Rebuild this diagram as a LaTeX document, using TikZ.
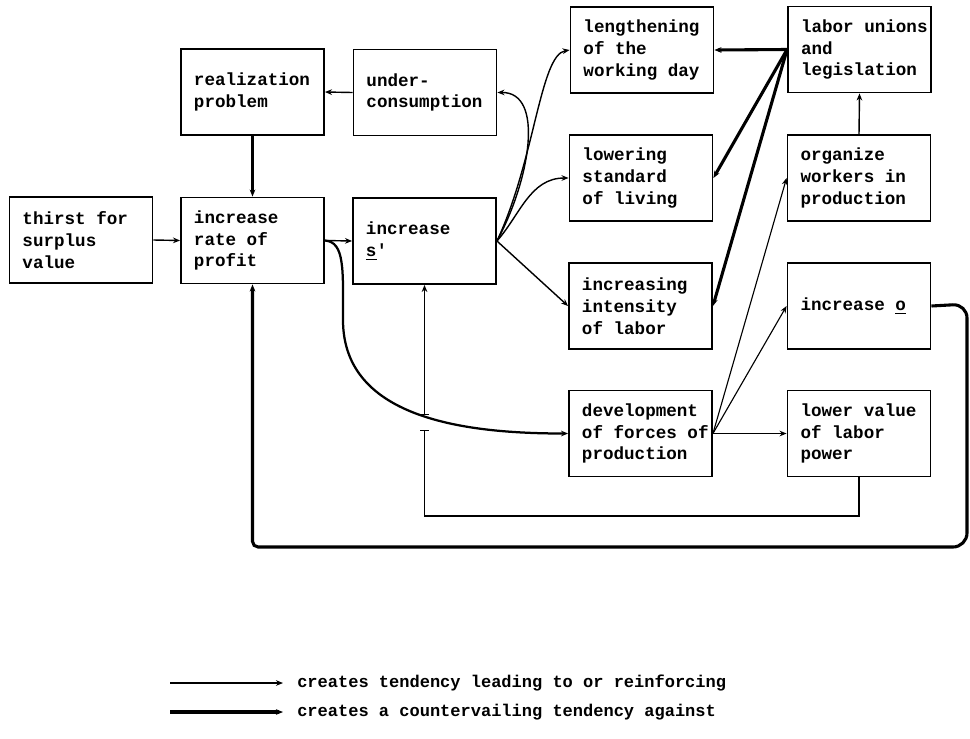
\documentclass[tikz,border=0pt]{standalone}
\usepackage{fontspec}
\setmonofont{Liberation Mono}
\usetikzlibrary{arrows.meta, calc}

\begin{document}
\begin{tikzpicture}[x=0.025cm, y=-0.025cm,
  box/.style={draw, line width=1.3pt, minimum width=3.575cm, minimum height=2.15cm,
    text width=2.925cm, inner xsep=0.325cm, align=left,
    execute at begin node={\spaceskip=0pt\xspaceskip=0pt\relax},
    font=\ttfamily\bfseries\fontsize{12.5}{15.5}\selectfont},
  tend/.style={-{Stealth[length=5pt, width=4pt]}, line width=1pt},
  counter/.style={-{Stealth[length=5pt, width=4pt]}, line width=2.2pt},
  legtext/.style={anchor=west, inner sep=0pt, font=\ttfamily\bfseries\fontsize{12.1}{15}\selectfont}]
  \useasboundingbox (0,0) rectangle (970,738);
  % boxes
  \node[box] (thirst) at (81, 240) {thirst for\\surplus\\value};
  \node[box] (real) at (252.5, 92) {realization\\problem};
  \node[box] (rate) at (252.5, 240.5) {increase\\rate of\\profit};
  \node[box] (under) at (425, 92.5) {under-\\consumption};
  \node[box] (sp) at (424.5, 241) {increase\\\underline{s}'};
  \node[box] (lengthen) at (642, 50) {lengthening\\of the\\working day};
  \node[box] (lowering) at (641, 178) {lowering\\standard\\of living};
  \node[box] (intens) at (640.5, 306) {increasing\\intensity\\of labor};
  \node[box] (develop) at (640.5, 433.5) {development\\\mbox{of forces of}\\production};
  \node[box] (unions) at (859.5, 49.5) {\mbox{labor unions}\\and\\legislation};
  \node[box] (organize) at (859, 178) {organize\\workers in\\production};
  \node[box] (incro) at (859, 306) {increase \underline{o}};
  \node[box] (lowv) at (859, 433.5) {lower value\\of labor\\power};
  % reinforcing
  \draw[tend] (thirst.east) -- (rate.west);
  \draw[tend] (rate.east) -- (sp.west);
  \draw[tend] (under.west) -- (real.east);
  \draw[tend] (sp.east) .. controls (530,180) and (545,92) .. (under.east);
  \draw[tend] (sp.east) .. controls (535,160) and (540,55) .. (lengthen.west);
  \draw[tend] (sp.east) .. controls (520,215) and (530,178) .. (lowering.west);
  \draw[tend] (sp.east) -- (intens.west);
  \coordinate (bend) at (343,320);
  \draw[tend, line width=1.6pt] (rate.east) .. controls (345,242) and (343,270) .. (bend)
    .. controls (343,420) and (469,433.5) .. (develop.west);
  \draw[tend] (organize.north) -- (unions.south);
  \draw[tend, line width=0.8pt] (develop.east) -- (organize.west);
  \draw[tend, line width=0.8pt] (develop.east) -- (incro.west);
  \draw[tend, line width=1.4pt] (develop.east) -- (lowv.west);
  \coordinate (gapt) at ($(sp.south)+(0,130)$);
  \coordinate (gapb) at ($(sp.south)+(0,145)$);
  \draw[line width=0.9pt, -{Bar[width=6pt]}] (lowv.south) |- (424.5,516) -- (gapb);
  \draw[line width=0.9pt, {Bar[width=6pt]}-{Stealth[length=5pt, width=4pt]}] (gapt) -- (sp.south);
  % countervailing
  \draw[counter] (real.south) -- (rate.north);
  \draw[counter] (unions.west) -- (lengthen.east);
  \draw[counter] (unions.west) -- (lowering.east);
  \draw[counter] (unions.west) -- (intens.east);
  \draw[counter, rounded corners=10] (incro.east) -- (967,304) -- (967,547)
    [rounded corners=4] -| (rate.south);
  % legend
  \coordinate (leg1a) at (170,683);
  \coordinate (leg1b) at (283,683);
  \coordinate (leg2a) at (170,712);
  \coordinate (leg2b) at (283,712);
  \draw[tend] (leg1a) -- (leg1b);
  \draw[counter] (leg2a) -- (leg2b);
  \node[legtext] (leg1) at (297,683) {creates tendency leading to or reinforcing};
  \node[legtext] (leg2) at (297,712) {creates a countervailing tendency against};
\end{tikzpicture}
\end{document}
